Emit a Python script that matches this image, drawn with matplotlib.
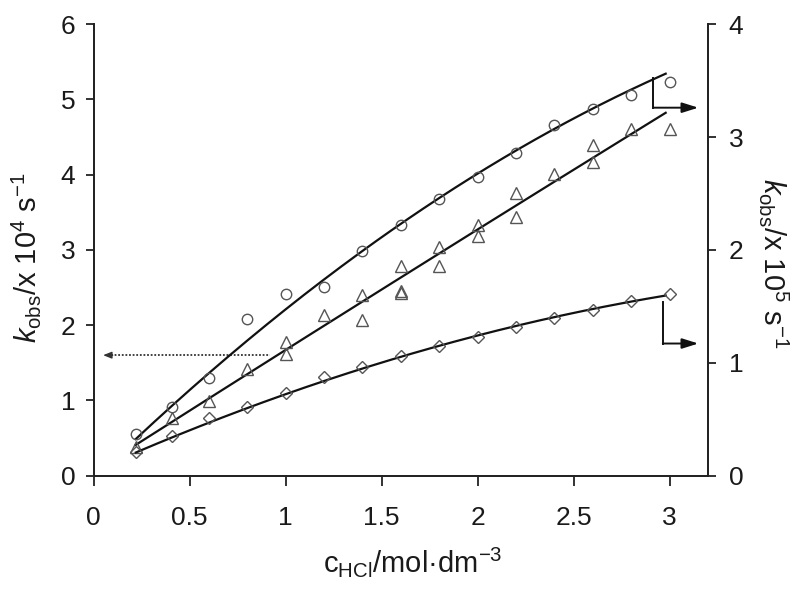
import matplotlib
matplotlib.use('Agg')
import matplotlib.pyplot as plt
import numpy as np

plt.rcParams['font.family'] = ['Liberation Sans', 'DejaVu Sans']
plt.rcParams['mathtext.fontset'] = 'custom'
plt.rcParams['mathtext.rm'] = 'Liberation Sans'
plt.rcParams['mathtext.it'] = 'Liberation Sans:italic'
plt.rcParams['mathtext.bf'] = 'Liberation Sans:bold'

# ---- data ----
c_hcl = [0.22, 0.41, 0.60, 0.80, 1.00, 1.20, 1.40, 1.60, 1.80, 2.00, 2.20, 2.40, 2.60, 2.80, 3.00]
# circles: right axis (x 10^5 s^-1)
k_circle = [0.37, 0.61, 0.86, 1.39, 1.61, 1.67, 1.99, 2.22, 2.45, 2.65, 2.86, 3.11, 3.25, 3.37, 3.49]
# diamonds: right axis (x 10^5 s^-1)
k_diamond = [0.21, 0.35, 0.51, 0.61, 0.73, 0.87, 0.96, 1.06, 1.15, 1.23, 1.32, 1.40, 1.47, 1.55, 1.61]
# triangles: left axis (x 10^4 s^-1)
c_tri = [0.22, 0.41, 0.60, 0.80, 1.00, 1.00, 1.20, 1.40, 1.40, 1.60, 1.60, 1.60, 1.80, 1.80,
         2.00, 2.00, 2.20, 2.20, 2.40, 2.60, 2.60, 2.80, 3.00]
k_tri = [0.38, 0.76, 0.99, 1.42, 1.78, 1.62, 2.13, 2.40, 2.07, 2.78, 2.42, 2.45, 3.04, 2.78,
         3.33, 3.18, 3.76, 3.44, 4.01, 4.40, 4.17, 4.61, 4.61]

# fitted curves, values
fit_x_circle = [0.22, 0.60, 1.00, 1.40, 2.00, 2.40, 2.80, 2.98]
fit_circle = [0.33, 0.89, 1.49, 1.97, 2.70, 3.06, 3.41, 3.57]
fit_x = [0.22, 0.60, 1.00, 1.40, 2.00, 2.40, 2.98]
fit_tri = [0.41, 1.02, 1.67, 2.31, 3.27, 3.91, 4.82]
fit_diamond = [0.20, 0.47, 0.72, 0.96, 1.23, 1.40, 1.60]

x_ticks = [0, 0.5, 1, 1.5, 2, 2.5, 3]
x_ticklabels = ['0', '0.5', '1', '1.5', '2', '2.5', '3']
yl_ticks = [0, 1, 2, 3, 4, 5, 6]
yr_ticks = [0, 1, 2, 3, 4]

TXT = '#1a1a1a'
LINE = '#111111'
MK = '#555555'

fig = plt.figure(figsize=(8, 5.9), dpi=100)
ax = fig.add_axes([0.1169, 0.194, 0.768, 0.765])
ax2 = ax.twinx()

ax.set_xlim(0, 3.2)
ax.set_ylim(0, 6)
ax2.set_ylim(0, 4)


def smooth(ax_, fx, fy, deg=2):
    p = np.polyfit(fx, fy, deg)
    xs = np.linspace(fx[0], fx[-1], 200)
    ax_.plot(xs, np.polyval(p, xs), color=LINE, lw=1.6, zorder=3)


smooth(ax2, fit_x_circle, fit_circle)
smooth(ax, fit_x, fit_tri)
smooth(ax2, fit_x, fit_diamond)

ax2.plot(c_hcl, k_circle, 'o', ms=7.5, mfc='none', mec=MK, mew=1.0, zorder=4)
ax2.plot(c_hcl, k_diamond, 'D', ms=6.2, mfc='none', mec=MK, mew=1.0, zorder=4)
ax.plot(c_tri, k_tri, '^', ms=8.5, mfc='none', mec=MK, mew=1.0, zorder=4)

# dotted arrow to the left axis (triangles)
ax.plot([0.09, 0.92], [1.6, 1.6], color='#333333', lw=1.3, ls=(0, (1, 1)))
ax.annotate('', xy=(0.05, 1.6), xytext=(0.10, 1.6),
            arrowprops=dict(arrowstyle='-|>,head_length=0.5,head_width=0.2',
                            color='#333333', lw=1.0, shrinkA=0, shrinkB=0))

# bent arrows to the right axis
ah = dict(arrowstyle='-|>,head_length=0.7,head_width=0.22', color=LINE, lw=1.4,
          shrinkA=0, shrinkB=0, mutation_scale=14)
ax2.plot([2.915, 2.915], [3.52, 3.26], color=LINE, lw=1.4)
ax2.annotate('', xy=(3.15, 3.26), xytext=(2.915, 3.26), arrowprops=ah)
ax2.plot([2.965, 2.965], [1.54, 1.17], color=LINE, lw=1.4)
ax2.annotate('', xy=(3.15, 1.17), xytext=(2.965, 1.17), arrowprops=ah)

# axes styling
for a in (ax, ax2):
    a.spines['top'].set_visible(False)
    for s in ('left', 'right', 'bottom'):
        a.spines[s].set_linewidth(1.3)
        a.spines[s].set_color('#222222')

ax.set_xticks(x_ticks)
ax.set_xticklabels(x_ticklabels)
ax.set_yticks(yl_ticks)
ax2.set_yticks(yr_ticks)

ax.tick_params(axis='x', direction='out', length=7, width=1.3, pad=15, labelsize=19,
               colors='#222222', labelcolor=TXT)
ax.tick_params(axis='y', direction='out', length=6, width=1.3, pad=7, labelsize=19,
               colors='#222222', labelcolor=TXT)
ax2.tick_params(axis='y', direction='out', length=6, width=1.3, pad=9, labelsize=19,
                colors='#222222', labelcolor=TXT)

ax.set_xlabel(r'c$_{\mathrm{HCl}}$/mol·dm$^{-3}$', fontsize=21, color=TXT)
ax.xaxis.set_label_coords(0.52, -0.155)
ax.set_ylabel(r'$\mathit{k}_{\mathrm{obs}}$/x 10$^{4}$ s$^{-1}$', fontsize=21, color=TXT)
ax.yaxis.set_label_coords(-0.083, 0.482)
ax2.set_ylabel(r'$\mathit{k}_{\mathrm{obs}}$/x 10$^{5}$ s$^{-1}$', fontsize=21, color=TXT,
               rotation=-90, va='bottom')
ax2.yaxis.set_label_coords(1.08, 0.471)

fig.savefig('out.png', dpi=100)
